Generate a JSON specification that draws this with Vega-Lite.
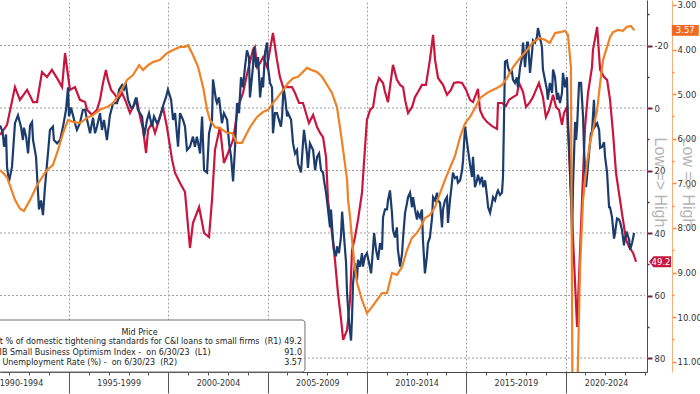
{
  "$schema": "https://vega.github.io/schema/vega-lite/v6.json",
  "autosize": {"type": "none"},
  "width": 647,
  "height": 372,
  "padding": {"left": 0, "top": 0, "right": 53, "bottom": 22},
  "background": "white",
  "config": {"view": {"stroke": null}, "font": "DejaVu Sans", "axis": {"labelFont": "DejaVu Sans", "titleFont": "Liberation Sans"}},
  "datasets": {
    "nfib": [
      {"t":1991.53,"v":100.6},{"t":1991.66,"v":100.0},{"t":1991.73,"v":98.7},{"t":1991.83,"v":99.8},{"t":1991.88,"v":96.9},{"t":1991.98,"v":95.6},{"t":1992.13,"v":96.9},{"t":1992.28,"v":100.8},{"t":1992.43,"v":101.5},{"t":1992.58,"v":100.5},{"t":1992.68,"v":99.3},{"t":1992.73,"v":100.4},{"t":1992.84,"v":99.6},{"t":1992.94,"v":98.1},{"t":1993.04,"v":100.6},{"t":1993.14,"v":100.9},{"t":1993.19,"v":99.3},{"t":1993.34,"v":97.8},{"t":1993.44,"v":94.6},{"t":1993.49,"v":93.1},{"t":1993.59,"v":93.9},{"t":1993.69,"v":92.6},{"t":1993.79,"v":95.1},{"t":1993.89,"v":97.1},{"t":1993.97,"v":98.7},{"t":1994.04,"v":100.2},{"t":1994.19,"v":100.5},{"t":1994.24,"v":99.3},{"t":1994.40,"v":99.0},{"t":1994.55,"v":99.3},{"t":1994.70,"v":100.5},{"t":1994.85,"v":102.0},{"t":1994.95,"v":104.0},{"t":1995.00,"v":101.4},{"t":1995.10,"v":102.2},{"t":1995.20,"v":101.5},{"t":1995.30,"v":100.8},{"t":1995.40,"v":100.2},{"t":1995.55,"v":100.8},{"t":1995.70,"v":102.0},{"t":1995.81,"v":102.0},{"t":1995.91,"v":101.1},{"t":1996.06,"v":99.9},{"t":1996.21,"v":101.3},{"t":1996.31,"v":99.9},{"t":1996.41,"v":100.5},{"t":1996.56,"v":101.7},{"t":1996.66,"v":100.2},{"t":1996.76,"v":101.1},{"t":1996.91,"v":99.3},{"t":1997.06,"v":101.5},{"t":1997.22,"v":102.6},{"t":1997.42,"v":102.6},{"t":1997.52,"v":103.8},{"t":1997.67,"v":104.2},{"t":1997.77,"v":103.8},{"t":1997.87,"v":104.2},{"t":1997.97,"v":102.9},{"t":1998.12,"v":102.2},{"t":1998.22,"v":102.2},{"t":1998.37,"v":103.1},{"t":1998.47,"v":102.0},{"t":1998.68,"v":101.4},{"t":1998.78,"v":99.6},{"t":1998.93,"v":101.1},{"t":1999.03,"v":101.7},{"t":1999.18,"v":100.5},{"t":1999.28,"v":101.4},{"t":1999.43,"v":100.8},{"t":1999.53,"v":101.1},{"t":1999.68,"v":102.0},{"t":1999.78,"v":102.6},{"t":1999.88,"v":103.1},{"t":1999.98,"v":103.8},{"t":2000.14,"v":102.9},{"t":2000.24,"v":101.1},{"t":2000.34,"v":101.7},{"t":2000.49,"v":98.7},{"t":2000.59,"v":101.7},{"t":2000.74,"v":101.1},{"t":2000.84,"v":100.5},{"t":2000.94,"v":98.4},{"t":2001.09,"v":98.7},{"t":2001.24,"v":99.6},{"t":2001.34,"v":98.7},{"t":2001.44,"v":99.6},{"t":2001.60,"v":98.1},{"t":2001.70,"v":101.4},{"t":2001.80,"v":96.6},{"t":2001.95,"v":96.4},{"t":2002.05,"v":99.9},{"t":2002.20,"v":101.1},{"t":2002.25,"v":104.7},{"t":2002.40,"v":102.9},{"t":2002.45,"v":102.6},{"t":2002.55,"v":103.1},{"t":2002.70,"v":100.8},{"t":2002.80,"v":101.7},{"t":2002.96,"v":101.1},{"t":2003.06,"v":99.0},{"t":2003.16,"v":97.8},{"t":2003.26,"v":95.6},{"t":2003.36,"v":98.7},{"t":2003.46,"v":102.6},{"t":2003.56,"v":101.7},{"t":2003.66,"v":104.9},{"t":2003.76,"v":104.0},{"t":2003.86,"v":105.8},{"t":2003.96,"v":107.3},{"t":2004.06,"v":106.7},{"t":2004.11,"v":103.1},{"t":2004.26,"v":105.8},{"t":2004.31,"v":107.6},{"t":2004.42,"v":105.8},{"t":2004.52,"v":106.7},{"t":2004.62,"v":103.1},{"t":2004.72,"v":104.9},{"t":2004.77,"v":104.0},{"t":2004.87,"v":107.1},{"t":2004.97,"v":108.0},{"t":2005.02,"v":105.8},{"t":2005.12,"v":104.4},{"t":2005.22,"v":104.0},{"t":2005.27,"v":99.9},{"t":2005.37,"v":101.7},{"t":2005.47,"v":101.7},{"t":2005.52,"v":101.4},{"t":2005.67,"v":100.5},{"t":2005.73,"v":101.5},{"t":2005.80,"v":104.0},{"t":2005.88,"v":103.1},{"t":2005.98,"v":101.4},{"t":2006.03,"v":101.7},{"t":2006.18,"v":101.1},{"t":2006.28,"v":99.0},{"t":2006.38,"v":98.1},{"t":2006.48,"v":98.4},{"t":2006.53,"v":97.2},{"t":2006.68,"v":96.4},{"t":2006.78,"v":99.0},{"t":2006.83,"v":100.2},{"t":2006.98,"v":98.1},{"t":2007.03,"v":96.8},{"t":2007.13,"v":99.0},{"t":2007.29,"v":98.4},{"t":2007.39,"v":96.6},{"t":2007.49,"v":97.8},{"t":2007.59,"v":98.1},{"t":2007.69,"v":96.6},{"t":2007.79,"v":96.4},{"t":2007.84,"v":95.7},{"t":2007.94,"v":94.6},{"t":2007.99,"v":93.9},{"t":2008.04,"v":93.1},{"t":2008.14,"v":91.5},{"t":2008.19,"v":93.1},{"t":2008.29,"v":90.4},{"t":2008.34,"v":89.5},{"t":2008.44,"v":88.9},{"t":2008.49,"v":89.8},{"t":2008.59,"v":89.2},{"t":2008.69,"v":90.6},{"t":2008.75,"v":92.9},{"t":2008.85,"v":90.6},{"t":2008.95,"v":88.3},{"t":2009.00,"v":85.6},{"t":2009.10,"v":83.0},{"t":2009.20,"v":81.4},{"t":2009.25,"v":83.5},{"t":2009.30,"v":86.5},{"t":2009.40,"v":88.3},{"t":2009.50,"v":86.8},{"t":2009.55,"v":88.6},{"t":2009.65,"v":88.0},{"t":2009.75,"v":89.2},{"t":2009.80,"v":88.0},{"t":2009.90,"v":88.9},{"t":2010.00,"v":89.2},{"t":2010.11,"v":88.3},{"t":2010.21,"v":87.4},{"t":2010.31,"v":89.7},{"t":2010.36,"v":91.0},{"t":2010.46,"v":89.5},{"t":2010.56,"v":88.6},{"t":2010.66,"v":90.1},{"t":2010.76,"v":89.5},{"t":2010.81,"v":92.4},{"t":2010.91,"v":93.1},{"t":2011.01,"v":93.1},{"t":2011.06,"v":93.9},{"t":2011.16,"v":94.8},{"t":2011.26,"v":92.8},{"t":2011.31,"v":91.3},{"t":2011.41,"v":90.6},{"t":2011.51,"v":91.5},{"t":2011.56,"v":89.5},{"t":2011.67,"v":88.0},{"t":2011.77,"v":89.2},{"t":2011.82,"v":90.6},{"t":2011.92,"v":92.8},{"t":2012.02,"v":93.7},{"t":2012.07,"v":94.2},{"t":2012.17,"v":94.6},{"t":2012.27,"v":93.3},{"t":2012.32,"v":94.2},{"t":2012.42,"v":93.1},{"t":2012.52,"v":92.2},{"t":2012.57,"v":92.8},{"t":2012.67,"v":92.4},{"t":2012.77,"v":93.1},{"t":2012.82,"v":90.4},{"t":2012.92,"v":87.4},{"t":2013.02,"v":88.9},{"t":2013.07,"v":90.1},{"t":2013.17,"v":90.6},{"t":2013.28,"v":92.4},{"t":2013.33,"v":94.2},{"t":2013.43,"v":93.9},{"t":2013.53,"v":94.6},{"t":2013.58,"v":93.9},{"t":2013.68,"v":93.7},{"t":2013.78,"v":91.5},{"t":2013.83,"v":93.1},{"t":2013.93,"v":93.9},{"t":2014.03,"v":94.2},{"t":2014.08,"v":91.9},{"t":2014.18,"v":93.9},{"t":2014.28,"v":95.5},{"t":2014.33,"v":96.4},{"t":2014.43,"v":95.9},{"t":2014.53,"v":96.0},{"t":2014.58,"v":95.5},{"t":2014.69,"v":95.7},{"t":2014.79,"v":96.6},{"t":2014.84,"v":97.5},{"t":2014.94,"v":100.5},{"t":2015.09,"v":98.4},{"t":2015.19,"v":97.1},{"t":2015.29,"v":96.0},{"t":2015.34,"v":97.8},{"t":2015.44,"v":95.1},{"t":2015.54,"v":95.7},{"t":2015.59,"v":96.2},{"t":2015.69,"v":95.5},{"t":2015.79,"v":96.0},{"t":2015.85,"v":95.1},{"t":2015.95,"v":95.7},{"t":2016.05,"v":94.2},{"t":2016.10,"v":93.3},{"t":2016.20,"v":92.8},{"t":2016.30,"v":93.7},{"t":2016.35,"v":94.2},{"t":2016.45,"v":93.9},{"t":2016.55,"v":94.6},{"t":2016.60,"v":94.8},{"t":2016.70,"v":94.4},{"t":2016.80,"v":94.6},{"t":2016.85,"v":96.0},{"t":2016.95,"v":106.3},{"t":2017.05,"v":106.4},{"t":2017.10,"v":105.8},{"t":2017.20,"v":105.3},{"t":2017.30,"v":105.4},{"t":2017.35,"v":104.7},{"t":2017.45,"v":104.4},{"t":2017.55,"v":104.9},{"t":2017.60,"v":104.0},{"t":2017.71,"v":105.8},{"t":2017.81,"v":106.7},{"t":2017.86,"v":108.0},{"t":2017.96,"v":105.8},{"t":2018.06,"v":108.0},{"t":2018.11,"v":108.0},{"t":2018.21,"v":105.3},{"t":2018.31,"v":107.1},{"t":2018.36,"v":108.2},{"t":2018.46,"v":108.0},{"t":2018.56,"v":108.5},{"t":2018.61,"v":109.3},{"t":2018.71,"v":108.5},{"t":2018.81,"v":107.6},{"t":2018.86,"v":105.6},{"t":2018.96,"v":104.7},{"t":2019.06,"v":103.8},{"t":2019.11,"v":102.9},{"t":2019.21,"v":104.4},{"t":2019.32,"v":103.5},{"t":2019.37,"v":105.6},{"t":2019.47,"v":104.9},{"t":2019.57,"v":102.9},{"t":2019.62,"v":103.5},{"t":2019.72,"v":102.6},{"t":2019.82,"v":103.5},{"t":2019.87,"v":105.3},{"t":2019.97,"v":104.0},{"t":2020.07,"v":104.9},{"t":2020.12,"v":101.1},{"t":2020.22,"v":96.9},{"t":2020.33,"v":91.0},{"t":2020.38,"v":95.5},{"t":2020.48,"v":100.9},{"t":2020.53,"v":99.3},{"t":2020.58,"v":100.5},{"t":2020.68,"v":104.4},{"t":2020.78,"v":104.4},{"t":2020.88,"v":101.4},{"t":2020.93,"v":98.4},{"t":2021.03,"v":95.1},{"t":2021.08,"v":96.0},{"t":2021.18,"v":98.1},{"t":2021.28,"v":99.9},{"t":2021.33,"v":100.0},{"t":2021.43,"v":102.9},{"t":2021.48,"v":100.5},{"t":2021.59,"v":100.8},{"t":2021.69,"v":100.2},{"t":2021.74,"v":98.6},{"t":2021.84,"v":98.7},{"t":2021.94,"v":99.1},{"t":2021.99,"v":97.8},{"t":2022.09,"v":96.4},{"t":2022.19,"v":93.3},{"t":2022.24,"v":93.3},{"t":2022.34,"v":92.4},{"t":2022.44,"v":90.5},{"t":2022.49,"v":91.0},{"t":2022.59,"v":92.3},{"t":2022.69,"v":92.2},{"t":2022.74,"v":92.0},{"t":2022.84,"v":91.3},{"t":2022.94,"v":89.9},{"t":2022.99,"v":90.6},{"t":2023.09,"v":91.0},{"t":2023.20,"v":90.4},{"t":2023.25,"v":89.5},{"t":2023.35,"v":90.1},{"t":2023.45,"v":91.0}
    ],
    "sloos": [
      {"t":1991.53,"v":8.6},{"t":1991.88,"v":5.4},{"t":1992.28,"v":-6.7},{"t":1992.53,"v":-2.6},{"t":1992.89,"v":-5.8},{"t":1993.19,"v":-1.9},{"t":1993.39,"v":-1.9},{"t":1993.64,"v":-11.5},{"t":1993.89,"v":-9.9},{"t":1994.14,"v":-12.2},{"t":1994.45,"v":-9.0},{"t":1994.65,"v":-6.7},{"t":1994.80,"v":-17.6},{"t":1995.05,"v":-5.8},{"t":1995.30,"v":-6.7},{"t":1995.55,"v":-2.6},{"t":1995.81,"v":-1.9},{"t":1995.91,"v":0.6},{"t":1996.16,"v":2.2},{"t":1996.41,"v":0.6},{"t":1996.56,"v":-2.6},{"t":1996.71,"v":-8.0},{"t":1996.86,"v":-12.2},{"t":1996.96,"v":-9.0},{"t":1997.12,"v":-5.8},{"t":1997.32,"v":-4.2},{"t":1997.47,"v":-2.6},{"t":1997.67,"v":-4.8},{"t":1997.87,"v":-1.9},{"t":1998.07,"v":1.6},{"t":1998.22,"v":-0.3},{"t":1998.42,"v":-2.6},{"t":1998.58,"v":2.9},{"t":1998.73,"v":7.0},{"t":1998.88,"v":14.4},{"t":1998.98,"v":7.0},{"t":1999.18,"v":4.8},{"t":1999.33,"v":8.0},{"t":1999.58,"v":2.9},{"t":1999.73,"v":-0.3},{"t":1999.93,"v":6.1},{"t":2000.19,"v":16.6},{"t":2000.34,"v":20.8},{"t":2000.59,"v":24.0},{"t":2000.84,"v":26.9},{"t":2001.09,"v":44.8},{"t":2001.24,"v":36.8},{"t":2001.55,"v":31.7},{"t":2001.80,"v":40.0},{"t":2002.05,"v":41.3},{"t":2002.20,"v":29.4},{"t":2002.35,"v":13.4},{"t":2002.60,"v":6.1},{"t":2002.80,"v":17.6},{"t":2003.01,"v":14.4},{"t":2003.26,"v":10.2},{"t":2003.51,"v":-0.3},{"t":2003.76,"v":-4.8},{"t":2004.01,"v":-12.2},{"t":2004.26,"v":-18.6},{"t":2004.36,"v":-19.5},{"t":2004.47,"v":-13.1},{"t":2004.62,"v":-14.4},{"t":2004.77,"v":-16.3},{"t":2004.97,"v":-13.1},{"t":2005.12,"v":-18.6},{"t":2005.27,"v":-24.0},{"t":2005.47,"v":-15.4},{"t":2005.62,"v":-9.9},{"t":2005.78,"v":-6.7},{"t":2005.98,"v":-6.7},{"t":2006.23,"v":-6.7},{"t":2006.38,"v":-4.8},{"t":2006.58,"v":-1.6},{"t":2006.78,"v":-1.6},{"t":2006.93,"v":1.6},{"t":2007.08,"v":4.8},{"t":2007.29,"v":2.2},{"t":2007.49,"v":6.1},{"t":2007.64,"v":8.0},{"t":2007.79,"v":9.3},{"t":2007.94,"v":15.7},{"t":2008.04,"v":29.4},{"t":2008.24,"v":40.0},{"t":2008.39,"v":48.6},{"t":2008.54,"v":59.2},{"t":2008.70,"v":67.8},{"t":2008.80,"v":74.2},{"t":2009.00,"v":71.0},{"t":2009.15,"v":61.4},{"t":2009.25,"v":45.4},{"t":2009.40,"v":41.3},{"t":2009.55,"v":35.8},{"t":2009.75,"v":27.2},{"t":2009.85,"v":17.6},{"t":2010.00,"v":3.8},{"t":2010.16,"v":0.6},{"t":2010.31,"v":-0.3},{"t":2010.46,"v":-6.7},{"t":2010.61,"v":-9.6},{"t":2010.81,"v":-8.0},{"t":2010.91,"v":-5.1},{"t":2011.06,"v":-1.9},{"t":2011.16,"v":-6.7},{"t":2011.31,"v":-13.8},{"t":2011.51,"v":-9.0},{"t":2011.67,"v":-7.4},{"t":2011.82,"v":-6.7},{"t":2011.92,"v":-2.6},{"t":2012.07,"v":1.6},{"t":2012.27,"v":-0.3},{"t":2012.42,"v":-3.5},{"t":2012.57,"v":-5.1},{"t":2012.77,"v":-7.4},{"t":2012.97,"v":-7.4},{"t":2013.17,"v":-15.4},{"t":2013.33,"v":-23.4},{"t":2013.43,"v":-15.4},{"t":2013.58,"v":-9.6},{"t":2013.83,"v":-7.4},{"t":2014.03,"v":-4.2},{"t":2014.23,"v":-5.8},{"t":2014.38,"v":-8.0},{"t":2014.58,"v":-8.3},{"t":2014.79,"v":-8.0},{"t":2014.99,"v":-5.8},{"t":2015.19,"v":-2.6},{"t":2015.34,"v":-1.9},{"t":2015.59,"v":-6.1},{"t":2015.69,"v":0.6},{"t":2015.85,"v":2.9},{"t":2016.05,"v":4.5},{"t":2016.30,"v":5.8},{"t":2016.55,"v":6.7},{"t":2016.60,"v":-1.6},{"t":2016.80,"v":-1.6},{"t":2017.00,"v":-0.6},{"t":2017.15,"v":-2.6},{"t":2017.35,"v":-3.5},{"t":2017.55,"v":-4.2},{"t":2017.66,"v":-8.0},{"t":2017.86,"v":-5.1},{"t":2018.01,"v":-0.3},{"t":2018.21,"v":-1.9},{"t":2018.36,"v":-3.5},{"t":2018.51,"v":-5.8},{"t":2018.66,"v":-8.0},{"t":2018.86,"v":-3.5},{"t":2019.01,"v":2.9},{"t":2019.17,"v":0.6},{"t":2019.37,"v":-4.2},{"t":2019.52,"v":-0.3},{"t":2019.67,"v":0.6},{"t":2019.82,"v":5.4},{"t":2019.92,"v":1.6},{"t":2020.07,"v":-0.3},{"t":2020.58,"v":70.1},{"t":2020.83,"v":29.4},{"t":2020.98,"v":6.1},{"t":2021.13,"v":-4.8},{"t":2021.33,"v":-13.1},{"t":2021.38,"v":-18.6},{"t":2021.59,"v":-25.9},{"t":2021.74,"v":-12.2},{"t":2021.94,"v":-9.9},{"t":2022.09,"v":-9.0},{"t":2022.24,"v":-2.6},{"t":2022.39,"v":8.0},{"t":2022.54,"v":20.8},{"t":2022.74,"v":29.4},{"t":2022.89,"v":35.8},{"t":2023.05,"v":42.2},{"t":2023.20,"v":44.5},{"t":2023.40,"v":46.4},{"t":2023.55,"v":49.2}
    ],
    "unemp": [
      {"t":1991.53,"v":6.70},{"t":1991.88,"v":6.86},{"t":1992.28,"v":7.37},{"t":1992.53,"v":7.57},{"t":1992.73,"v":7.62},{"t":1993.04,"v":7.37},{"t":1993.39,"v":7.04},{"t":1993.89,"v":6.70},{"t":1994.19,"v":6.59},{"t":1994.45,"v":6.25},{"t":1994.70,"v":5.87},{"t":1994.95,"v":5.58},{"t":1995.20,"v":5.62},{"t":1995.55,"v":5.65},{"t":1995.91,"v":5.53},{"t":1996.21,"v":5.47},{"t":1996.56,"v":5.35},{"t":1996.91,"v":5.29},{"t":1997.22,"v":5.20},{"t":1997.57,"v":4.97},{"t":1997.92,"v":4.68},{"t":1998.22,"v":4.57},{"t":1998.53,"v":4.35},{"t":1998.73,"v":4.46},{"t":1998.98,"v":4.35},{"t":1999.23,"v":4.28},{"t":1999.58,"v":4.23},{"t":1999.93,"v":4.08},{"t":2000.24,"v":4.01},{"t":2000.59,"v":3.94},{"t":2000.84,"v":3.94},{"t":2000.99,"v":3.90},{"t":2001.24,"v":4.12},{"t":2001.50,"v":4.39},{"t":2001.75,"v":4.84},{"t":2001.95,"v":5.35},{"t":2002.10,"v":5.58},{"t":2002.35,"v":5.74},{"t":2002.60,"v":5.76},{"t":2002.96,"v":5.87},{"t":2003.21,"v":5.87},{"t":2003.46,"v":6.09},{"t":2003.71,"v":6.09},{"t":2003.96,"v":5.87},{"t":2004.11,"v":5.74},{"t":2004.47,"v":5.51},{"t":2004.77,"v":5.40},{"t":2005.02,"v":5.35},{"t":2005.27,"v":5.20},{"t":2005.52,"v":5.06},{"t":2005.78,"v":4.91},{"t":2006.03,"v":4.75},{"t":2006.28,"v":4.64},{"t":2006.53,"v":4.61},{"t":2006.78,"v":4.50},{"t":2006.98,"v":4.41},{"t":2007.23,"v":4.46},{"t":2007.49,"v":4.50},{"t":2007.74,"v":4.61},{"t":2007.99,"v":4.79},{"t":2008.24,"v":4.97},{"t":2008.49,"v":5.29},{"t":2008.64,"v":5.74},{"t":2008.80,"v":6.25},{"t":2009.00,"v":6.92},{"t":2009.05,"v":7.37},{"t":2009.15,"v":7.75},{"t":2009.25,"v":8.27},{"t":2009.35,"v":8.72},{"t":2009.50,"v":9.23},{"t":2009.75,"v":9.61},{"t":2010.00,"v":9.91},{"t":2010.26,"v":9.77},{"t":2010.51,"v":9.61},{"t":2010.76,"v":9.46},{"t":2011.01,"v":9.46},{"t":2011.26,"v":9.01},{"t":2011.51,"v":9.05},{"t":2011.77,"v":8.87},{"t":2012.02,"v":8.49},{"t":2012.27,"v":8.22},{"t":2012.52,"v":8.11},{"t":2012.67,"v":8.00},{"t":2012.92,"v":7.78},{"t":2013.17,"v":7.71},{"t":2013.43,"v":7.53},{"t":2013.68,"v":7.22},{"t":2013.93,"v":6.92},{"t":2014.18,"v":6.65},{"t":2014.43,"v":6.39},{"t":2014.69,"v":5.96},{"t":2014.94,"v":5.65},{"t":2015.19,"v":5.51},{"t":2015.44,"v":5.31},{"t":2015.69,"v":5.09},{"t":2016.05,"v":4.97},{"t":2016.30,"v":4.91},{"t":2016.55,"v":4.86},{"t":2016.80,"v":4.79},{"t":2017.05,"v":4.64},{"t":2017.36,"v":4.39},{"t":2017.71,"v":4.19},{"t":2018.06,"v":4.01},{"t":2018.36,"v":3.83},{"t":2018.71,"v":3.74},{"t":2018.96,"v":3.78},{"t":2019.21,"v":3.85},{"t":2019.47,"v":3.63},{"t":2019.72,"v":3.61},{"t":2019.97,"v":3.58},{"t":2020.12,"v":3.67},{"t":2020.27,"v":4.39},{"t":2020.38,"v":14.7},{"t":2020.50,"v":13.0},{"t":2020.60,"v":11.5},{"t":2020.73,"v":8.9},{"t":2020.88,"v":7.37},{"t":2021.08,"v":6.54},{"t":2021.23,"v":6.09},{"t":2021.38,"v":5.80},{"t":2021.59,"v":5.35},{"t":2021.74,"v":4.75},{"t":2021.89,"v":4.23},{"t":2022.09,"v":3.94},{"t":2022.24,"v":3.72},{"t":2022.39,"v":3.61},{"t":2022.64,"v":3.56},{"t":2022.89,"v":3.58},{"t":2023.09,"v":3.49},{"t":2023.29,"v":3.47},{"t":2023.46,"v":3.57}
    ],
    "gridRed": [{"v": -20, "t0": 1991.526, "t1": 2024.0}, {"v": 0, "t0": 1991.526, "t1": 2024.0}, {"v": 20, "t0": 1991.526, "t1": 2024.0}, {"v": 40, "t0": 1991.526, "t1": 2024.0}, {"v": 60, "t0": 1991.526, "t1": 2024.0}, {"v": 80, "t0": 1991.526, "t1": 2024.0}],
    "legendBox": [{"t0": 1990.5, "t1": 2006.88, "v0": 67.84, "v1": 84.48}],
    "legendTitle": [{"t": 1998.55, "v": 72.0, "label": "Mid Price"}],
    "legendNames": [
      {"t": 1990.97, "v": 74.9, "label": "Net % of domestic tightening standards for C&I loans to small firms\u00a0 (R1)"},
      {"t": 1990.97, "v": 78.3, "label": "NFIB Small Business Optimism Index -\u00a0 on 6/30/23\u00a0 (L1)"},
      {"t": 1990.97, "v": 81.6, "label": "US Unemployment Rate (%) -\u00a0 on 6/30/23\u00a0 (R2)"}
    ],
    "legendValues": [
      {"t": 2006.73, "v": 74.9, "label": "49.2"},
      {"t": 2006.73, "v": 78.3, "label": "91.0"},
      {"t": 2006.73, "v": 81.6, "label": "3.57"}
    ]
  },
  "resolve": {"scale": {"y": "independent"}, "axis": {"x": "independent", "y": "independent"}},
  "layer": [
    {
      "data": {"name": "gridRed"},
      "mark": {"type": "rule", "color": "#a0a0a0", "strokeDash": [2, 2], "strokeWidth": 1, "opacity": 1},
      "encoding": {
        "x": {"field": "t0", "type": "quantitative", "scale": {"domain": [1991.526, 2024.1], "nice": false, "zero": false}, "axis": null},
        "x2": {"field": "t1"},
        "y": {"field": "v", "type": "quantitative", "scale": {"domain": [-34.56, 84.48], "reverse": true, "nice": false, "zero": false}, "axis": null}
      }
    },
    {
      "data": {"name": "sloos"},
      "mark": {"type": "line", "color": "#c8163e", "strokeWidth": 2.2, "clip": true},
      "encoding": {
        "x": {"field": "t", "type": "quantitative", "scale": {"domain": [1991.526, 2024.1], "nice": false, "zero": false},
          "axis": {"orient": "bottom", "values": [1995, 2000, 2005, 2010, 2015, 2020], "labels": false, "title": null, "tickSize": 21, "tickColor": "#555555", "tickWidth": 1, "domain": true, "domainColor": "#444444", "domainWidth": 1, "grid": true, "gridColor": "#a0a0a0", "gridDash": [2, 2], "gridWidth": 1}},
        "y": {"field": "v", "type": "quantitative", "scale": {"domain": [-34.56, 84.48], "reverse": true, "nice": false, "zero": false},
          "axis": {"orient": "right", "values": [-20, 0, 20, 40, 60, 80],
            "labelExpr": "'' + datum.value",
            "labelFontSize": 8.5, "labelColor": "#333333", "labelPadding": 2, "labelOverlap": false, "labelFlush": false,
            "tickColor": "#7a1d45", "tickWidth": 2, "tickSize": 5,
            "domainColor": "#8c2a50", "domainWidth": 1, "grid": false,
            "title": "Low => High", "titleColor": "#b5b5b5", "titleFont": "Liberation Sans", "titleFontSize": 16, "titleFontWeight": "normal",
            "titleAngle": 90, "titleX": 12, "titleY": 182, "titleAlign": "center", "titleBaseline": "middle"}}
      }
    },
    {
      "data": {"name": "nfib"},
      "mark": {"type": "line", "color": "#1d3c6e", "strokeWidth": 2.2, "clip": true},
      "encoding": {
        "x": {"field": "t", "type": "quantitative", "scale": {"domain": [1991.526, 2024.1], "nice": false, "zero": false},
          "axis": {"orient": "bottom", "values": [1992.58, 1997.5, 2002.5, 2007.5, 2012.5, 2017.5, 2022.04],
            "labelExpr": "(floor((datum.value-1990)/5)*5+1990) + '-' + (floor((datum.value-1990)/5)*5+1994)",
            "ticks": false, "tickSize": 0, "domain": false, "grid": false, "labelPadding": 7, "labelFontSize": 8, "labelColor": "#333333", "labelFlush": false, "labelOverlap": false, "title": null}},
        "y": {"field": "v", "type": "quantitative", "scale": {"domain": [78.59, 111.8], "nice": false, "zero": false}, "axis": null}
      }
    },
    {
      "data": {"name": "unemp"},
      "mark": {"type": "line", "color": "#ef8126", "strokeWidth": 2.2, "clip": true},
      "encoding": {
        "x": {"field": "t", "type": "quantitative", "scale": {"domain": [1991.526, 2024.1], "nice": false, "zero": false},
          "axis": {"orient": "bottom", "values": [1992, 1993, 1994, 1996, 1997, 1998, 1999, 2001, 2002, 2003, 2004, 2006, 2007, 2008, 2009, 2011, 2012, 2013, 2014, 2016, 2017, 2018, 2019, 2021, 2022, 2023, 2024], "labels": false, "tickSize": 3, "tickColor": "#555555", "domain": false, "grid": false, "title": null}},
        "y": {"field": "v", "type": "quantitative", "scale": {"domain": [2.888, 11.229], "reverse": true, "nice": false, "zero": false},
          "axis": {"orient": "right", "offset": 25, "values": [3, 4, 5, 6, 7, 8, 9, 10, 11],
            "labelExpr": "format(datum.value, '.2f')",
            "labelFontSize": 8.5, "labelColor": "#333333", "labelPadding": 1, "labelOverlap": false, "labelFlush": false,
            "tickColor": "#f08a3a", "tickWidth": 1.5, "tickSize": 4,
            "domainColor": "#f4b27a", "domainWidth": 1, "grid": false,
            "title": "Low => High", "titleColor": "#b5b5b5", "titleFont": "Liberation Sans", "titleFontSize": 16, "titleFontWeight": "normal",
            "titleAngle": 90, "titleX": 15, "titleY": 182, "titleAlign": "center", "titleBaseline": "middle"}}
      }
    },
    {
      "data": {"name": "legendBox"},
      "mark": {"type": "rect", "fill": "white", "stroke": "#707070", "strokeWidth": 1, "cornerRadius": 3},
      "encoding": {
        "x": {"field": "t0", "type": "quantitative", "scale": {"domain": [1991.526, 2024.1], "nice": false, "zero": false}, "axis": null},
        "x2": {"field": "t1"},
        "y": {"field": "v0", "type": "quantitative", "scale": {"domain": [-34.56, 84.48], "reverse": true, "nice": false, "zero": false},
          "axis": {"orient": "right", "values": [-30, -10, 10, 30, 50, 70], "labels": false, "tickSize": 2, "tickColor": "#7a1d45", "tickWidth": 1.5, "domain": false, "grid": false, "title": null}},
        "y2": {"field": "v1"}
      }
    },
    {
      "data": {"name": "legendTitle"},
      "mark": {"type": "text", "font": "DejaVu Sans", "fontSize": 8, "color": "#222222", "align": "center", "baseline": "middle"},
      "encoding": {
        "x": {"field": "t", "type": "quantitative", "scale": {"domain": [1991.526, 2024.1], "nice": false, "zero": false}, "axis": null},
        "y": {"field": "v", "type": "quantitative", "scale": {"domain": [-34.56, 84.48], "reverse": true, "nice": false, "zero": false}, "axis": null},
        "text": {"field": "label"}
      }
    },
    {
      "data": {"name": "legendNames"},
      "mark": {"type": "text", "font": "DejaVu Sans", "fontSize": 8, "color": "#222222", "align": "left", "baseline": "middle"},
      "encoding": {
        "x": {"field": "t", "type": "quantitative", "scale": {"domain": [1991.526, 2024.1], "nice": false, "zero": false}, "axis": null},
        "y": {"field": "v", "type": "quantitative", "scale": {"domain": [-34.56, 84.48], "reverse": true, "nice": false, "zero": false}, "axis": null},
        "text": {"field": "label"}
      }
    },
    {
      "data": {"name": "legendValues"},
      "mark": {"type": "text", "font": "DejaVu Sans", "fontSize": 8, "color": "#222222", "align": "right", "baseline": "middle"},
      "encoding": {
        "x": {"field": "t", "type": "quantitative", "scale": {"domain": [1991.526, 2024.1], "nice": false, "zero": false}, "axis": null},
        "y": {"field": "v", "type": "quantitative", "scale": {"domain": [-34.56, 84.48], "reverse": true, "nice": false, "zero": false}, "axis": null},
        "text": {"field": "label"}
      }
    },
    {
      "data": {"name": "sloos"},
      "transform": [{"filter": "datum.t > 2023.5"}],
      "mark": {"type": "point", "shape": "M-1,0L-0.6,-0.5L1,-0.5L1,0.5L-0.6,0.5Z", "filled": true, "color": "#c8163e", "opacity": 1, "size": 484, "strokeWidth": 0, "xOffset": 24},
      "encoding": {
        "x": {"field": "t", "type": "quantitative", "scale": {"domain": [1991.526, 2024.1], "nice": false, "zero": false}, "axis": null},
        "y": {"field": "v", "type": "quantitative", "scale": {"domain": [-34.56, 84.48], "reverse": true, "nice": false, "zero": false}, "axis": null}
      }
    },
    {
      "data": {"name": "sloos"},
      "transform": [{"filter": "datum.t > 2023.5"}],
      "mark": {"type": "text", "xOffset": 25, "color": "white", "font": "DejaVu Sans", "fontSize": 8.5, "align": "center", "baseline": "middle"},
      "encoding": {
        "x": {"field": "t", "type": "quantitative", "scale": {"domain": [1991.526, 2024.1], "nice": false, "zero": false}, "axis": null},
        "y": {"field": "v", "type": "quantitative", "scale": {"domain": [-34.56, 84.48], "reverse": true, "nice": false, "zero": false}, "axis": null},
        "text": {"field": "v", "type": "quantitative", "format": ".1f"}
      }
    },
    {
      "data": {"name": "unemp"},
      "transform": [{"filter": "datum.t > 2023.4"}],
      "mark": {"type": "point", "shape": "M-1,-0.4L1,-0.4L1,0.4L-1,0.4Z", "filled": true, "color": "#f26a21", "opacity": 1, "size": 729, "strokeWidth": 0, "xOffset": 51},
      "encoding": {
        "x": {"field": "t", "type": "quantitative", "scale": {"domain": [1991.526, 2024.1], "nice": false, "zero": false}, "axis": null},
        "y": {"field": "v", "type": "quantitative", "scale": {"domain": [2.888, 11.229], "reverse": true, "nice": false, "zero": false},
          "axis": {"orient": "right", "offset": 25, "values": [3.5, 4.5, 5.5, 6.5, 7.5, 8.5, 9.5, 10.5], "labels": false, "tickSize": 2, "tickColor": "#f08a3a", "tickWidth": 1.5, "domain": false, "grid": false, "title": null}}
      }
    },
    {
      "data": {"name": "unemp"},
      "transform": [{"filter": "datum.t > 2023.4"}],
      "mark": {"type": "text", "xOffset": 51, "color": "white", "font": "DejaVu Sans", "fontSize": 8.5, "align": "center", "baseline": "middle"},
      "encoding": {
        "x": {"field": "t", "type": "quantitative", "scale": {"domain": [1991.526, 2024.1], "nice": false, "zero": false}, "axis": null},
        "y": {"field": "v", "type": "quantitative", "scale": {"domain": [2.888, 11.229], "reverse": true, "nice": false, "zero": false}, "axis": null},
        "text": {"field": "v", "type": "quantitative", "format": ".2f"}
      }
    }
  ]
}
